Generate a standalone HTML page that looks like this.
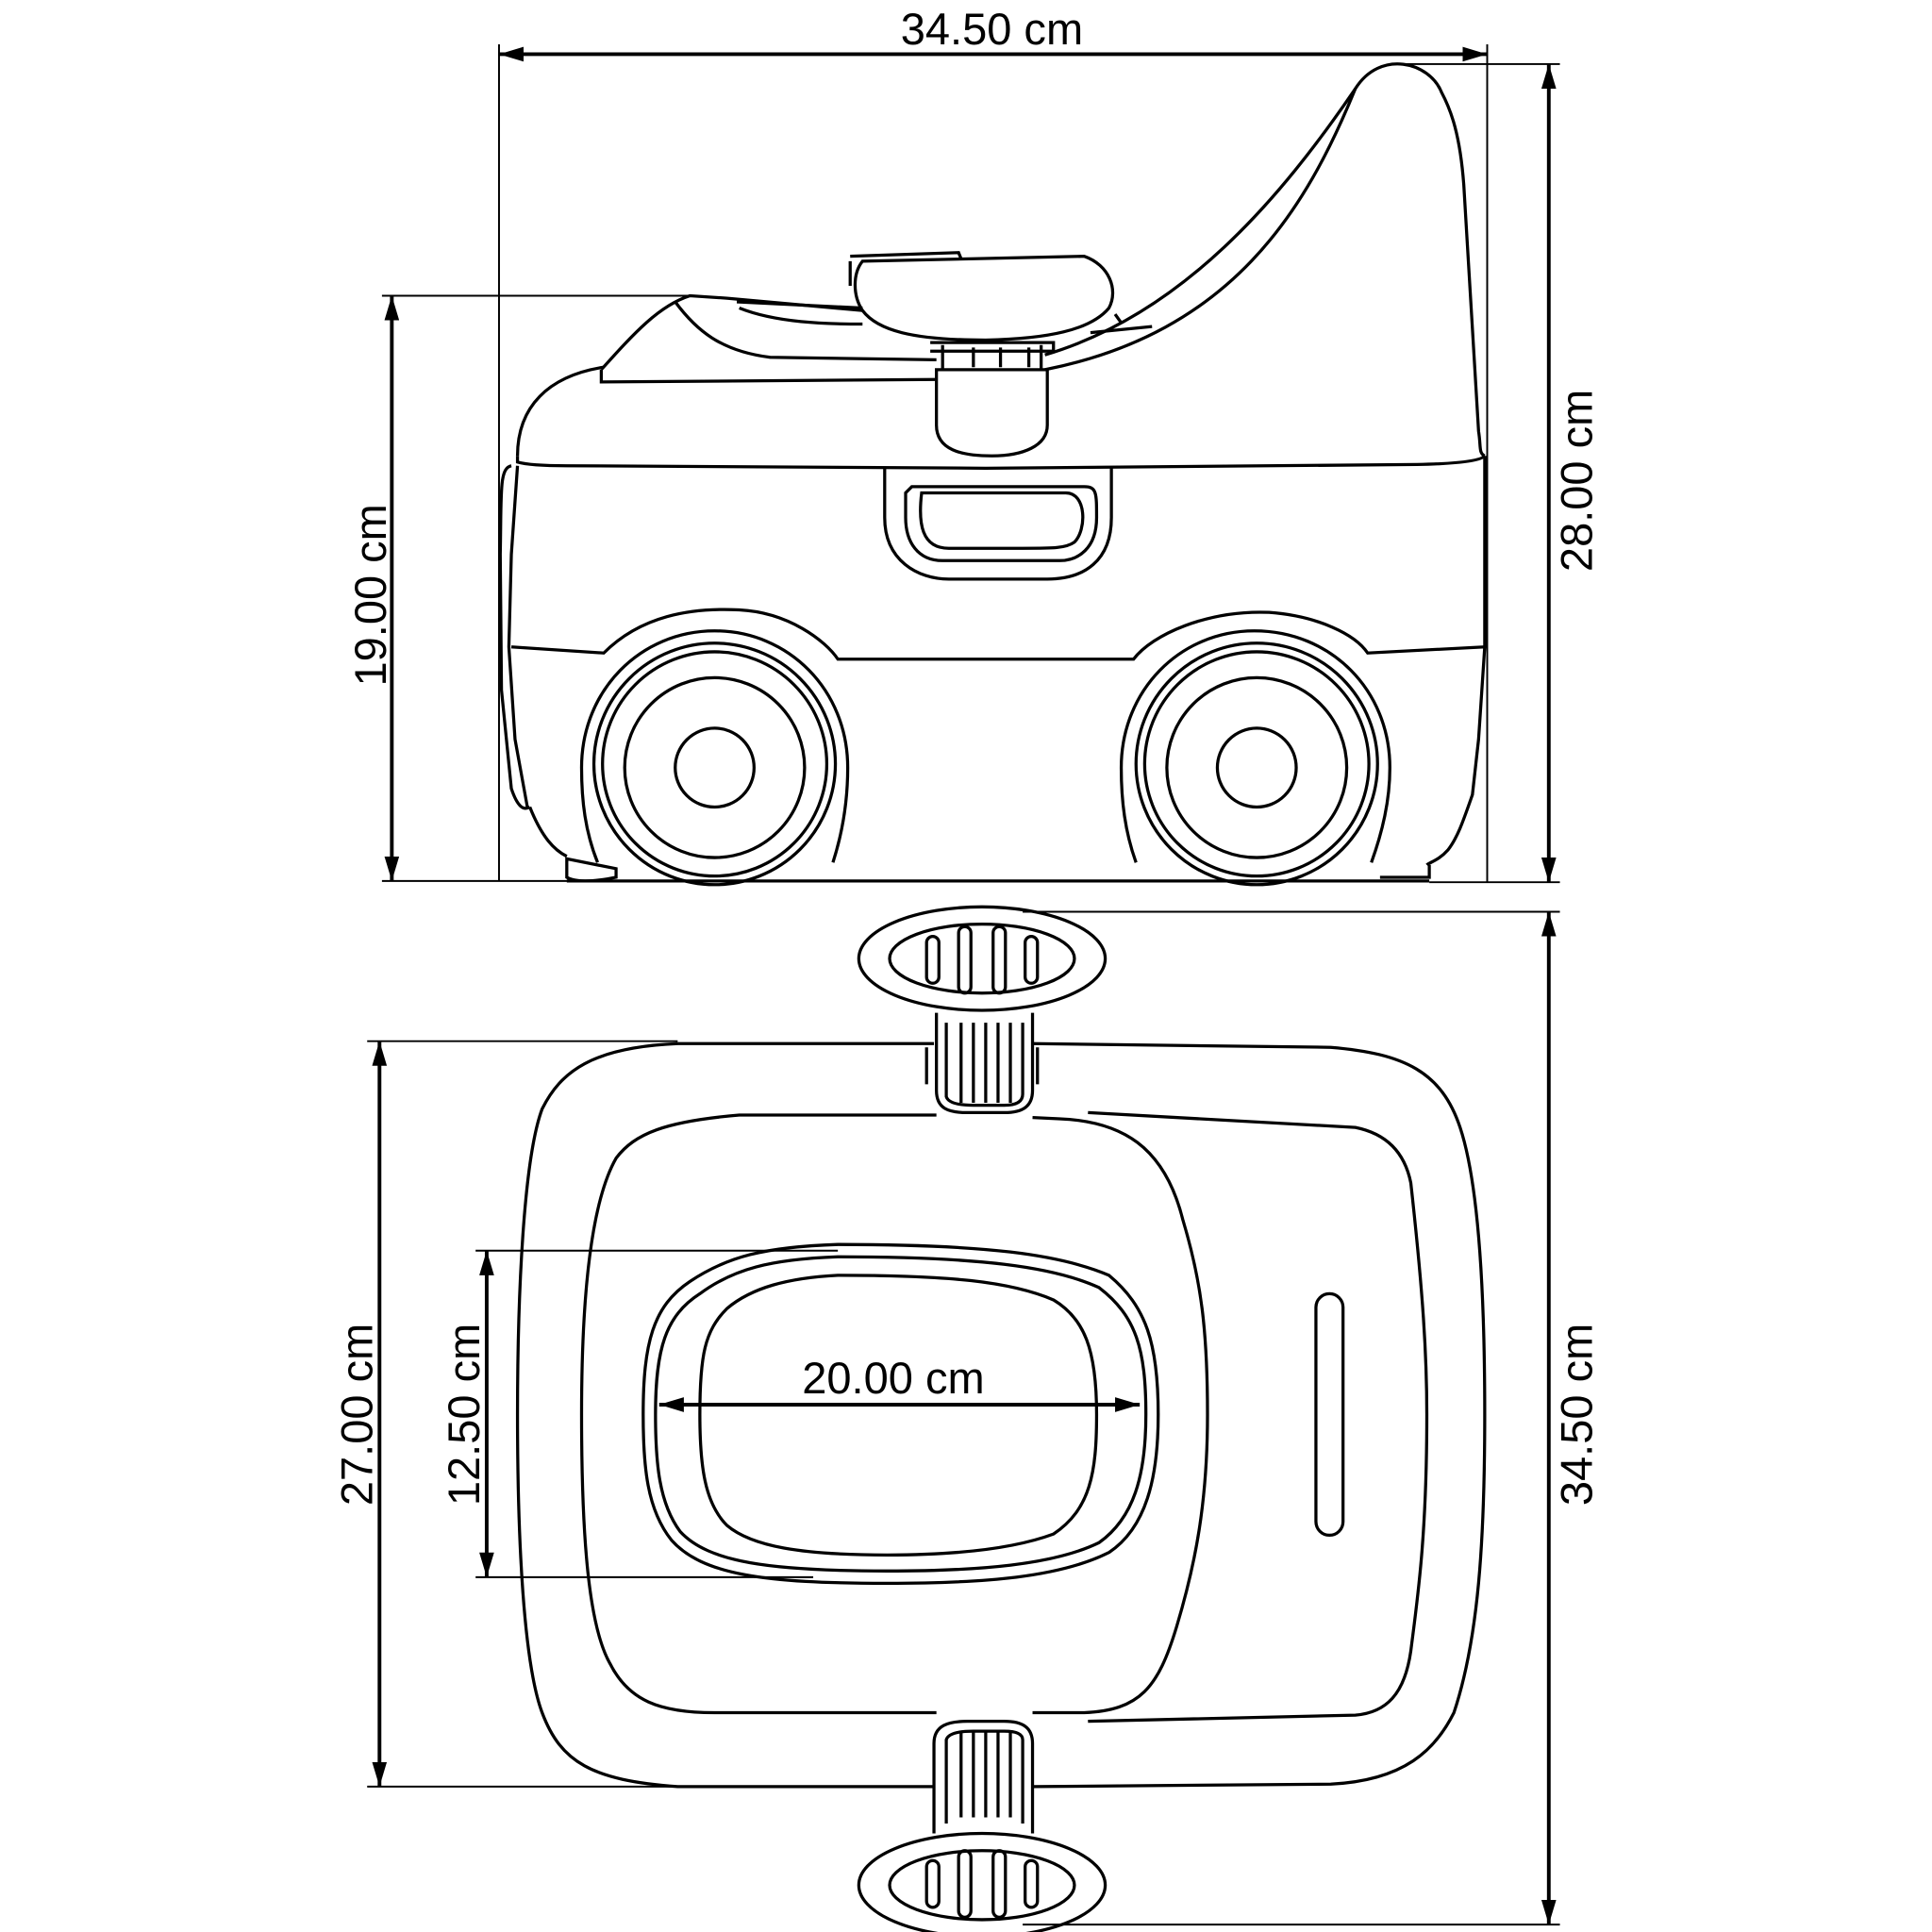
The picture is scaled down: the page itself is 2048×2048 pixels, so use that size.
<!DOCTYPE html>
<html><head><meta charset="utf-8"><style>
html,body{margin:0;padding:0;background:#fff;width:2048px;height:2048px;overflow:hidden}
svg{display:block}
text{font-family:"Liberation Sans",sans-serif;font-size:36px;fill:#000}
</style></head><body>
<svg width="2048" height="2048" viewBox="0 0 1568 1568" xmlns="http://www.w3.org/2000/svg">
<defs>
<marker id="a" viewBox="0 0 20 12" refX="20" refY="6" markerWidth="20" markerHeight="12" markerUnits="userSpaceOnUse" orient="auto-start-reverse"><path d="M0,0 L20,6 L0,12 z" fill="#000"/></marker>
</defs>
<g fill="none" stroke="#000" stroke-width="2.5">
<!-- extension lines -->
<line x1="405" y1="36" x2="405" y2="715" stroke-width="1.5"/>
<line x1="1207" y1="36" x2="1207" y2="716" stroke-width="1.5"/>
<line x1="310" y1="240" x2="560" y2="240" stroke-width="1.5"/>
<line x1="310" y1="715" x2="470" y2="715" stroke-width="1.5"/>
<line x1="1130" y1="52" x2="1266" y2="52" stroke-width="1.5"/>
<line x1="1160" y1="716" x2="1266" y2="716" stroke-width="1.5"/>
<line x1="830" y1="740" x2="1266" y2="740" stroke-width="1.5"/>
<line x1="830" y1="1562" x2="1266" y2="1562" stroke-width="1.5"/>
<line x1="298" y1="845" x2="550" y2="845" stroke-width="1.5"/>
<line x1="298" y1="1450" x2="560" y2="1450" stroke-width="1.5"/>
<line x1="386" y1="1015" x2="680" y2="1015" stroke-width="1.5"/>
<line x1="386" y1="1280" x2="660" y2="1280" stroke-width="1.5"/>
<!-- dimension lines -->
<line x1="405" y1="44" x2="1207" y2="44" stroke-width="3" marker-start="url(#a)" marker-end="url(#a)"/>
<line x1="1257" y1="52" x2="1257" y2="716" stroke-width="3" marker-start="url(#a)" marker-end="url(#a)"/>
<line x1="318" y1="240" x2="318" y2="715" stroke-width="3" marker-start="url(#a)" marker-end="url(#a)"/>
<line x1="1257" y1="740" x2="1257" y2="1562" stroke-width="3" marker-start="url(#a)" marker-end="url(#a)"/>
<line x1="308" y1="845" x2="308" y2="1450" stroke-width="3" marker-start="url(#a)" marker-end="url(#a)"/>
<line x1="395" y1="1015" x2="395" y2="1280" stroke-width="3" marker-start="url(#a)" marker-end="url(#a)"/>
<line x1="535" y1="1140" x2="925" y2="1140" stroke-width="3" marker-start="url(#a)" marker-end="url(#a)"/>

<!-- SIDE VIEW -->
<path d="M420,370 C420,330 445,305 490,298"/>
<path d="M488,300 C515,270 535,248 560,240 L590,242 L700,252"/>
<path d="M488,300 L488,310 L760,308"/>
<path d="M548,245 C565,268 585,285 625,290 L760,292"/>
<path d="M598,245 L700,250 M600,250 C630,262 670,263 700,263"/>
<path d="M848,300 C1000,270 1060,170 1100,72 C1120,40 1160,50 1170,75 C1178,90 1185,110 1188,150 L1200,350 C1202,362 1200,368 1205,370"/>
<path d="M848,288 C960,255 1040,160 1100,72"/>
<path d="M905,255 L910,262 M885,270 L935,265"/>
<path d="M420,370 L420,375 Q430,378 460,378 L800,380 L1150,377 Q1200,376 1205,370"/>
<path d="M420,378 L415,450 L413,525 L418,600 L428,655"/>
<path d="M415,378 C405,380 407,400 406,450 L407,560 L415,640 C420,655 425,658 430,655"/>
<path d="M430,655 C440,680 450,690 460,695"/>
<path d="M1205,370 L1205,525 L1200,600 L1195,645 C1188,665 1183,680 1175,690 C1168,698 1160,700 1158,702"/>
<path d="M415,525 L490,530 C520,500 560,493 600,495 C640,497 670,520 680,535 L920,535 C935,515 980,495 1030,497 C1070,500 1100,515 1110,530 L1205,525"/>
<circle cx="580" cy="620" r="98"/><circle cx="580" cy="620" r="91"/><circle cx="580" cy="623" r="73"/><circle cx="580" cy="623" r="32"/>
<circle cx="1020" cy="620" r="98"/><circle cx="1020" cy="620" r="91"/><circle cx="1020" cy="623" r="73"/><circle cx="1020" cy="623" r="32"/>
<path d="M485,700 C475,675 472,650 472,623 C472,560 520,512 580,512 C640,512 688,560 688,623 C688,650 684,675 676,700"/>
<path d="M922,700 C913,675 910,650 910,623 C910,560 958,512 1018,512 C1080,512 1128,560 1128,623 C1128,650 1122,675 1113,700"/>
<path d="M460,715 L1160,715"/>
<path d="M460,697 L460,712 Q470,718 500,712 L500,705 Z"/>
<path d="M1120,712 L1160,712 L1160,702"/>
<path d="M718,380 L718,420 C718,455 745,470 770,470 L850,470 C880,470 902,455 902,420 L902,380"/>
<path d="M740,395 L880,395 C890,395 890,400 890,420 C890,445 875,455 860,455 L765,455 C745,455 735,440 735,420 L735,400 Z"/>
<path d="M748,400 L865,400 C882,400 882,430 872,440 C865,445 855,445 830,445 L770,445 C748,445 745,425 748,400 Z"/>
<path d="M760,300 L760,345 C760,365 780,370 805,370 C830,370 850,362 850,345 L850,300 Z"/>
<path d="M765,280 L765,300 M845,280 L845,300 M790,282 L790,298 M812,282 L812,298 M835,282 L835,298"/>
<path d="M755,278 L855,278 L855,285 L755,285"/>
<path d="M700,212 L880,208 C900,215 908,235 900,250 C885,268 850,275 800,276 C740,276 712,268 700,252 C692,240 692,222 700,212 Z"/>
<path d="M690,212 L690,232 M690,208 L778,205 L780,210"/>

<!-- TOP VIEW knobs -->
<ellipse cx="797" cy="778" rx="100" ry="42"/>
<ellipse cx="797" cy="778" rx="75" ry="28"/>
<rect x="752" y="760" width="10" height="38" rx="5"/><rect x="778" y="752" width="10" height="54" rx="5"/>
<rect x="806" y="752" width="10" height="54" rx="5"/><rect x="832" y="760" width="10" height="38" rx="5"/>
<path d="M760,822 L760,885 C760,900 770,903 785,903 L815,903 C830,903 838,898 838,885 L838,822"/>
<path d="M768,830 L768,890 Q770,897 790,897 L815,897 Q830,897 830,888 L830,830"/>
<path d="M780,830 L780,895 M790,830 L790,895 M800,830 L800,895 M810,830 L810,895 M820,830 L820,895"/>
<path d="M752,850 L752,880 M842,850 L842,880"/>
<ellipse cx="797" cy="1530" rx="100" ry="42"/>
<ellipse cx="797" cy="1530" rx="75" ry="28"/>
<rect x="752" y="1510" width="10" height="38" rx="5"/><rect x="778" y="1502" width="10" height="54" rx="5"/>
<rect x="806" y="1502" width="10" height="54" rx="5"/><rect x="832" y="1510" width="10" height="38" rx="5"/>
<path d="M758,1488 L758,1415 C758,1400 770,1397 785,1397 L815,1397 C830,1397 838,1402 838,1415 L838,1488"/>
<path d="M768,1480 L768,1412 Q770,1405 790,1405 L815,1405 Q830,1405 830,1412 L830,1480"/>
<path d="M780,1405 L780,1475 M790,1405 L790,1475 M800,1405 L800,1475 M810,1405 L810,1475 M820,1405 L820,1475"/>
<!-- body outer -->
<path d="M550,847 C480,850 455,870 440,900 C425,940 420,1050 420,1148 C420,1250 425,1350 440,1390 C455,1430 480,1445 550,1450 L758,1450 M838,1450 L1080,1448 C1140,1445 1165,1420 1180,1390 C1200,1330 1205,1250 1205,1148 C1205,1050 1200,960 1185,915 C1170,870 1140,855 1080,850 L838,847 M758,847 L550,847"/>
<!-- inner -->
<path d="M760,905 L600,905 C540,910 515,920 500,940 C480,975 472,1050 472,1148 C472,1250 478,1320 495,1350 C510,1380 535,1390 580,1390 L760,1390 M838,1390 L880,1390 C925,1388 940,1370 955,1320 C970,1270 980,1220 980,1148 C980,1080 975,1040 960,990 C945,930 910,910 860,908 L838,907"/>
<path d="M883,903 L1100,915 C1125,920 1140,935 1145,960 C1155,1050 1158,1100 1158,1148 C1158,1250 1150,1300 1145,1340 C1140,1375 1125,1390 1100,1392 L883,1397"/>
<!-- seat rings -->
<path d="M680,1010 C800,1010 860,1018 900,1035 C930,1060 940,1090 940,1148 C940,1200 930,1240 900,1260 C860,1280 800,1285 720,1285 C620,1285 570,1278 545,1250 C525,1225 522,1190 522,1148 C522,1090 530,1060 560,1040 C590,1020 620,1012 680,1010 Z"/>
<path d="M680,1020 C795,1020 855,1028 892,1045 C922,1068 930,1095 930,1148 C930,1198 920,1232 892,1252 C855,1270 795,1275 720,1275 C625,1275 575,1268 552,1243 C535,1220 532,1188 532,1148 C532,1095 540,1068 568,1050 C595,1030 625,1022 680,1020 Z"/>
<path d="M680,1035 C770,1035 820,1040 855,1055 C880,1070 890,1095 890,1148 C890,1195 885,1225 855,1245 C820,1258 770,1262 720,1262 C650,1262 610,1255 590,1238 C572,1220 568,1190 568,1148 C568,1100 572,1080 590,1062 C610,1045 640,1037 680,1035 Z"/>
<rect x="1068" y="1050" width="22" height="196" rx="11"/>
</g>
<text x="805" y="36" text-anchor="middle">34.50 cm</text>
<text x="725" y="1131" text-anchor="middle">20.00 cm</text>
<text transform="translate(313,483) rotate(-90)" text-anchor="middle">19.00 cm</text>
<text transform="translate(1292,390) rotate(-90)" text-anchor="middle">28.00 cm</text>
<text transform="translate(1292,1148) rotate(-90)" text-anchor="middle">34.50 cm</text>
<text transform="translate(302,1148) rotate(-90)" text-anchor="middle">27.00 cm</text>
<text transform="translate(389,1148) rotate(-90)" text-anchor="middle">12.50 cm</text>
</svg>
</body></html>
